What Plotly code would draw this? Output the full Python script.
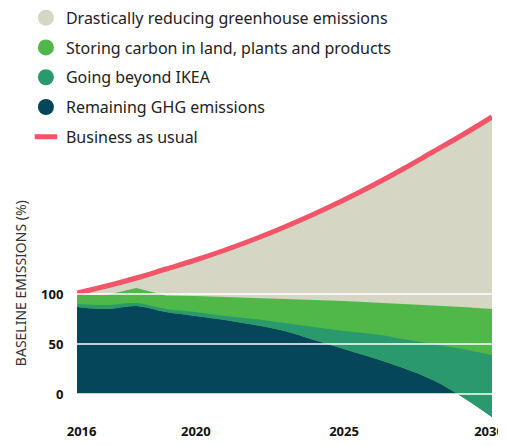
import plotly.graph_objects as go

years = list(range(2016, 2031))

# values (% of 2016 baseline)
business_as_usual = [101, 108, 116, 125, 134, 144, 155, 167, 180, 194, 209, 225, 242, 259, 277]
storing_carbon_top = [99, 99, 106, 98.5, 98, 97, 96, 95, 94, 93, 91.5, 90, 88.5, 87, 85]
going_beyond_top = [90, 89, 91, 85, 82, 78, 75, 71, 67, 63, 60, 55, 50, 45, 39]
remaining_ghg = [87, 85, 88, 82, 78, 74, 69, 63, 54, 45, 36, 26, 14, -3, -23]

y_ticks = [0, 50, 100]
x_ticks = [2016, 2020, 2025, 2030]
# labels are shifted a little left so 2030 fits; the others are pushed back with leading spaces
x_labels = ["\u2002\u2002\u2009<b>2016</b>", "\u2002<b>2020</b>", "\u2002<b>2025</b>", "<b>2030</b>"]

BEIGE = "#d6d6c5"
LIGHT_GREEN = "#50b848"
MID_GREEN = "#2a9a6e"
DARK = "#05465a"
RED = "#f2546a"
FONT = "Noto Sans"

# the page body adds an 8px margin all round, so the figure is kept small enough
# that the page does not overflow (no scrollbars)
W, H = 498, 430

fig = go.Figure()

# stacked-looking areas, drawn back to front
fig.add_trace(go.Scatter(x=years, y=business_as_usual, fill="tozeroy", fillcolor=BEIGE,
                         mode="none", line_shape="spline", showlegend=False, hoverinfo="skip"))
fig.add_trace(go.Scatter(x=years, y=storing_carbon_top, fill="tozeroy", fillcolor=LIGHT_GREEN,
                         mode="none", showlegend=False, hoverinfo="skip"))
fig.add_trace(go.Scatter(x=years, y=remaining_ghg, fill="tozeroy", fillcolor=DARK,
                         mode="none", line_shape="spline", showlegend=False, hoverinfo="skip"))
fig.add_trace(go.Scatter(x=years, y=remaining_ghg, mode="lines", line=dict(width=0, shape="spline"),
                         showlegend=False, hoverinfo="skip"))
fig.add_trace(go.Scatter(x=years, y=going_beyond_top, fill="tonexty", fillcolor=MID_GREEN,
                         mode="none", line_shape="spline", showlegend=False, hoverinfo="skip"))
fig.add_trace(go.Scatter(x=years, y=business_as_usual, mode="lines",
                         line=dict(color=RED, width=5, shape="spline"), showlegend=False, hoverinfo="skip"))

# legend entries (circles for areas, short bar for the line)
legend_items = [
    ("Drastically reducing greenhouse emissions", BEIGE),
    ("Storing carbon in land, plants and products", LIGHT_GREEN),
    ("Going beyond IKEA", MID_GREEN),
    ("Remaining GHG emissions", DARK),
]
for i, (name, col) in enumerate(legend_items):
    fig.add_trace(go.Scatter(x=[None], y=[None], mode="markers", name=name, legendgroup=str(i),
                             marker=dict(symbol="circle", size=17, color=col)))
fig.add_trace(go.Scatter(x=[None], y=[None], mode="markers", name="Business as usual", legendgroup="bau",
                         marker=dict(symbol="line-ew", size=20, color=RED,
                                     line=dict(color=RED, width=6))))

# white reference lines on top of the areas
for v in y_ticks:
    fig.add_shape(type="line", xref="x", yref="y", x0=years[0], x1=years[-1], y0=v, y1=v,
                  line=dict(color="white", width=1.5), layer="above")

fig.add_annotation(text="BASELINE EMISSIONS (%)", xref="paper", yref="y", x=-0.137, y=111,
                   xanchor="center", yanchor="middle", textangle=-90, showarrow=False,
                   font=dict(family=FONT, size=14, color="#333"))

fig.update_layout(
    width=W, height=H,
    margin=dict(l=69, r=14, t=86, b=19, autoexpand=False),
    paper_bgcolor="white", plot_bgcolor="white",
    font=dict(family=FONT, color="#222"),
    legend=dict(xref="container", yref="paper", x=0.036, y=1.287, xanchor="left", yanchor="top",
                font=dict(family=FONT, size=16, color="#222"), tracegroupgap=6,
                itemsizing="trace", bgcolor="rgba(0,0,0,0)"),
    xaxis=dict(range=[years[0], years[-1]], tickvals=x_ticks, ticktext=x_labels,
               showgrid=False, zeroline=False, showline=False, ticks="",
               ticklabeloverflow="allow", ticklabelstandoff=3, ticklabelshift=-3,
               tickfont=dict(family=FONT, size=13, color="#111")),
    yaxis=dict(range=[-25, 300], tickvals=y_ticks, ticktext=["<b>%d</b>" % t for t in y_ticks],
               showgrid=False, zeroline=False, showline=False, ticks="outside", ticklen=10,
               tickcolor="rgba(0,0,0,0)", tickfont=dict(family=FONT, size=13, color="#111")),
)

fig.write_html("out.html")
